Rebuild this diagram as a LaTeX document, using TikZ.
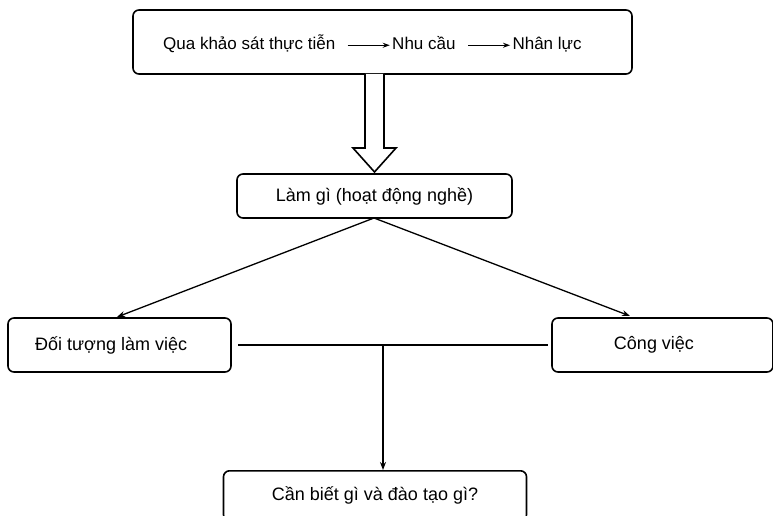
\documentclass[tikz,border=0pt]{standalone}
\usepackage{fontspec}
\setmainfont{Liberation Sans}
\usetikzlibrary{arrows.meta}
\newcommand{\inarrow}{\tikz[baseline=-4.5pt]\draw[line width=1pt,-{Stealth[length=7pt,width=5pt]}] (0,0)--(42pt,0);}
\begin{document}
\begin{tikzpicture}[x=1pt,y=-1pt,
  box/.style={draw,line width=1.6pt,rounded corners=6pt,font=\fontsize{18}{20}\selectfont},
  conn/.style={line width=1.3pt},
  arr/.style={conn,-{Stealth[length=8pt,width=6pt]}}]
\useasboundingbox (0,0) rectangle (773,516);
\node[box,minimum width=499pt,minimum height=64pt] (top) at (382.5,42) {};
\node[font=\fontsize{17}{19}\selectfont,anchor=west,inner sep=0pt] (toptext) at (163,44) {Qua khảo sát thực tiễn\hspace{12pt}\inarrow\hspace{2pt}Nhu cầu\hspace{12pt}\inarrow\hspace{2pt}Nhân lực};
\node[box,minimum width=275pt,minimum height=44pt] (mid) at (374.5,196) {Làm gì (hoạt động nghề)};
\node[box,minimum width=223pt,minimum height=54pt] (left) at (119.5,345) {};
\node[font=\fontsize{18}{20}\selectfont,anchor=west,inner sep=0pt] (lefttext) at (35,345) {Đối tượng làm việc};
\node[box,minimum width=221pt,minimum height=54pt] (right) at (662.5,345) {};
\node[font=\fontsize{18}{20}\selectfont] (righttext) at (654,345) {Công việc};
\node[box,minimum width=303pt,minimum height=50pt,anchor=north] (bot) at (375,470) {Cần biết gì và đào tạo gì?};
% double arrow
\draw[line width=1.6pt,fill=white] (365,74) -- (365,148) -- (353,148) -- (374.5,172) -- (396,148) -- (384,148) -- (384,74);
\coordinate (split) at (374,218);
\draw[arr] (split) -- (117,317);
\draw[arr] (split) -- (630,316);
\coordinate (hl) at (238,345);
\coordinate (hr) at (548,345);
\draw[conn] (hl) -- (hr);
\coordinate (j) at (383,345);
\draw[arr] (j) -- (j |- bot.north);
\end{tikzpicture}
\end{document}
